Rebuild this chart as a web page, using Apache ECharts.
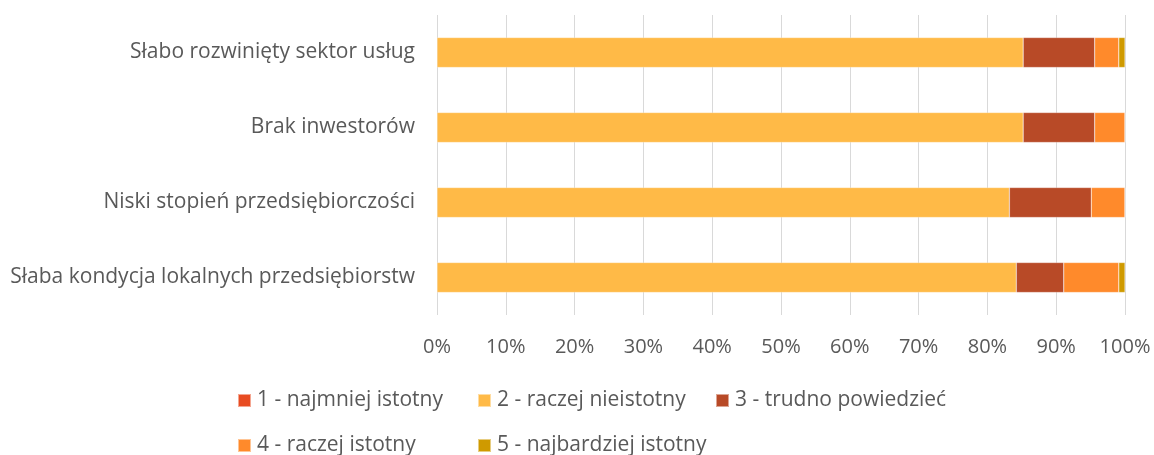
<!DOCTYPE html>
<html><head><meta charset="utf-8">
<script src="https://cdn.jsdelivr.net/npm/echarts@6/dist/echarts.min.js"></script>
<style>html,body{margin:0;padding:0;background:#fff}#c{width:1154px;height:455px}</style>
</head><body><div id="c"></div>
<script>
const categories = ['Słabo rozwinięty sektor usług','Brak inwestorów','Niski stopień przedsiębiorczości','Słaba kondycja lokalnych przedsiębiorstw'];
const seriesNames = ['1 - najmniej istotny','2 - raczej nieistotny','3 - trudno powiedzieć','4 - raczej istotny','5 - najbardziej istotny'];
const s1 = [0, 0, 0, 0];
const s2 = [85.2, 85.2, 83.2, 84.2];
const s3 = [10.4, 10.4, 11.9, 6.9];
const s4 = [3.5, 4.4, 4.9, 8.0];
const s5 = [0.9, 0, 0, 0.9];
const xTicks = [0,10,20,30,40,50,60,70,80,90,100];
const colors = ['#E84C22','#FFBA47','#B84A27','#FF8A2B','#CF9A00'];
const allData = [s1,s2,s3,s4,s5];
const FONT = 'Open Sans';
const chart = echarts.init(document.getElementById('c'));
const legendPos = [[237,390],[477,390],[715,390],[237,435],[477,435]];
chart.setOption({
  animation:false,
  textStyle:{fontFamily:FONT},
  grid:{left:437,right:29,top:15,bottom:140,containLabel:false},
  xAxis:{type:'value',min:xTicks[0],max:xTicks[xTicks.length-1],interval:10,
    axisLine:{show:false},axisTick:{show:false},
    splitLine:{lineStyle:{color:'#D9D9D9',width:1}},
    axisLabel:{formatter:'{value}%',color:'#595959',fontSize:20,fontFamily:FONT,margin:22}},
  yAxis:{type:'category',data:categories,inverse:true,
    axisLine:{show:false},axisTick:{show:false},
    axisLabel:{color:'#595959',fontSize:21,fontFamily:FONT,margin:22}},
  legend: seriesNames.map((n,i)=>({data:[n],left:legendPos[i][0],top:legendPos[i][1],padding:0,
    icon:'rect',itemWidth:13,itemHeight:13,itemGap:4,
    textStyle:{color:'#595959',fontSize:21,fontFamily:FONT,padding:[0,0,0,1]}})),
  series: seriesNames.map((n,i)=>({name:n,type:'bar',stack:'t',data:allData[i],
    barCategoryGap:'60%',itemStyle:{color:colors[i],borderColor:'rgba(255,255,255,0.5)',borderWidth:0.5}}))
});
</script></body></html>
